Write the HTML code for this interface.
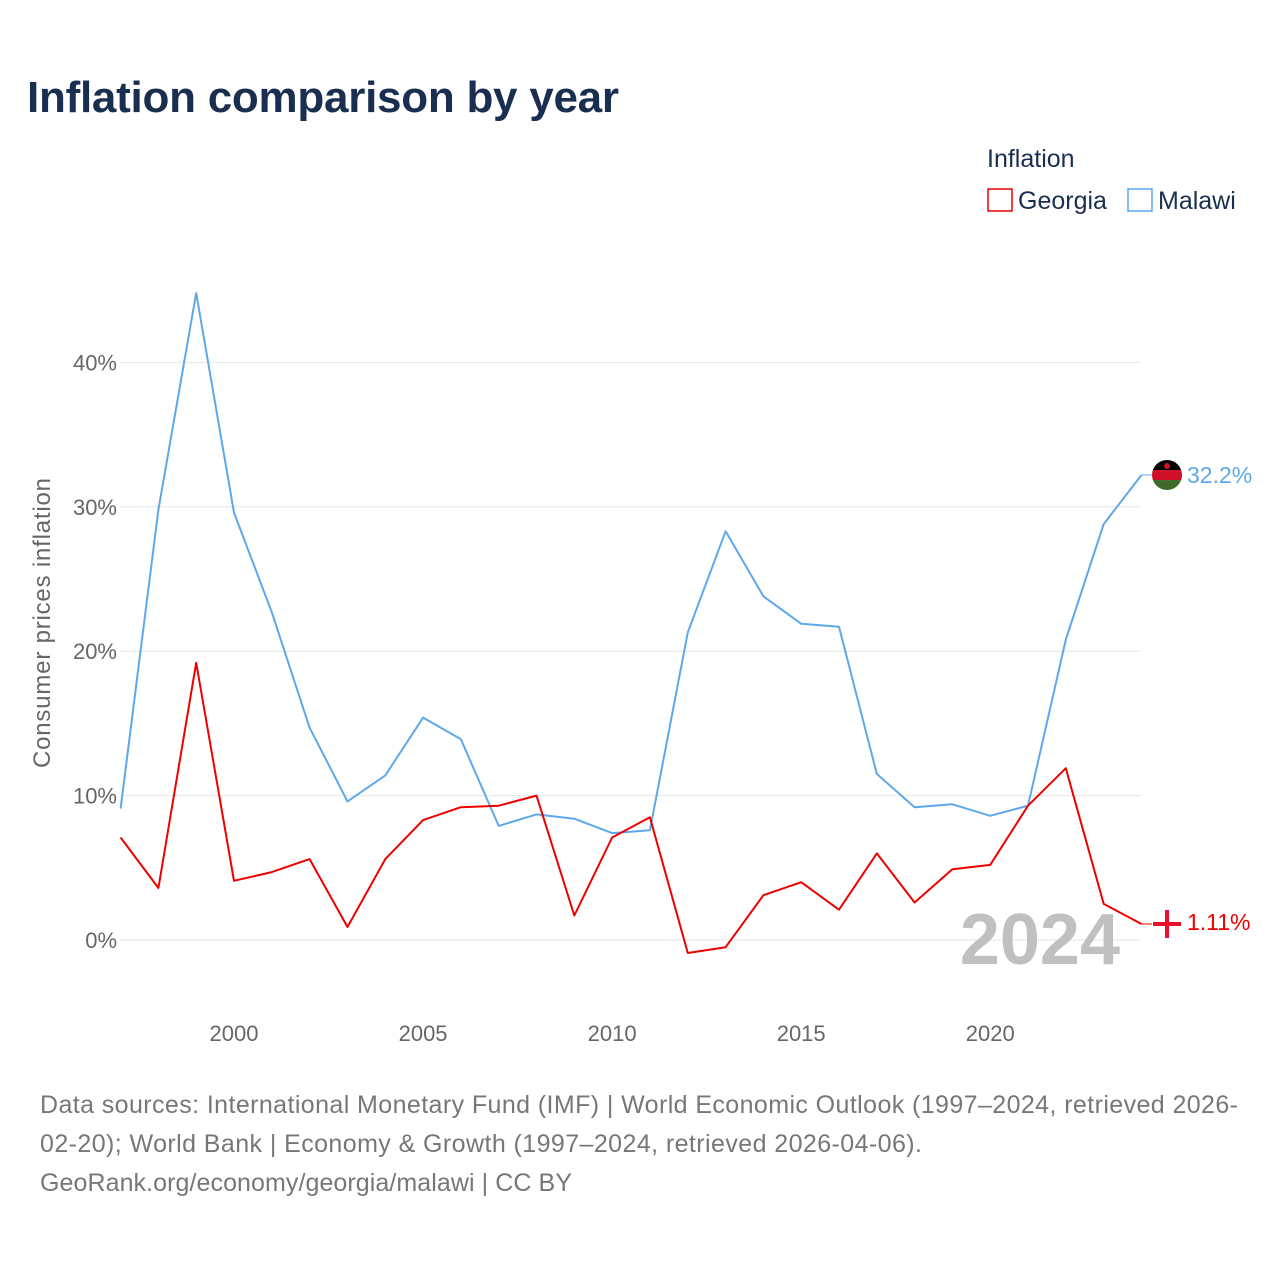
<!DOCTYPE html>
<html><head><meta charset="utf-8">
<style>
body{margin:0;background:#fff;font-family:"Liberation Sans",sans-serif;}
#wrap{position:relative;width:1280px;height:1280px;overflow:hidden;}
</style></head>
<body>
<div id="wrap">
<svg id="chart" width="1280" height="1280">
<text x="27" y="112" font-size="44" font-weight="bold" fill="#1a2e4f" textLength="592">Inflation comparison by year</text>
<g>
<text x="987" y="167" font-size="25" fill="#1a2e4f">Inflation</text>
<g><rect x="988" y="189" width="24" height="22" fill="none" stroke="#ee0000" stroke-width="1.5"/><text x="1018" y="209" font-size="25" fill="#1a2e4f">Georgia</text></g>
<g><rect x="1128" y="189" width="24" height="22" fill="none" stroke="#5ea8ea" stroke-width="1.5"/><text x="1158" y="209" font-size="25" fill="#1a2e4f">Malawi</text></g>
</g>
<text transform="translate(50,623) rotate(-90)" text-anchor="middle" font-size="24" fill="#666" textLength="290">Consumer prices inflation</text>
<g id="grid"></g><g id="yticks"></g><g id="xticks"></g>
<text x="1120" y="964" text-anchor="end" font-size="72" font-weight="bold" fill="#c0c0c0">2024</text>
<g id="series"></g>
<g font-size="25" fill="#777">
<text x="40" y="1113" textLength="1198">Data sources: International Monetary Fund (IMF) | World Economic Outlook (1997–2024, retrieved 2026-</text>
<text x="40" y="1152" textLength="882">02-20); World Bank | Economy &amp; Growth (1997–2024, retrieved 2026-04-06).</text>
<text x="40" y="1191" textLength="532">GeoRank.org/economy/georgia/malawi | CC BY</text>
</g>
</svg>
</div>
<script>
const years=[1997,1998,1999,2000,2001,2002,2003,2004,2005,2006,2007,2008,2009,2010,2011,2012,2013,2014,2015,2016,2017,2018,2019,2020,2021,2022,2023,2024];
const malawi=[9.1,29.8,44.8,29.6,22.7,14.7,9.6,11.4,15.4,13.9,7.9,8.7,8.4,7.4,7.6,21.3,28.3,23.8,21.9,21.7,11.5,9.2,9.4,8.6,9.3,20.8,28.8,32.2];
const georgia=[7.1,3.6,19.2,4.1,4.7,5.6,0.9,5.6,8.3,9.2,9.3,10.0,1.7,7.1,8.5,-0.9,-0.5,3.1,4.0,2.1,6.0,2.6,4.9,5.2,9.3,11.9,2.5,1.11];
const yTicks=[0,10,20,30,40];
const xTicks=[2000,2005,2010,2015,2020];
const NS="http://www.w3.org/2000/svg";
const x=v=>120.6+(v-1997)*37.81;
const y=v=>940-v*14.44;
function mk(t,a,p){const e=document.createElementNS(NS,t);for(const k in a)e.setAttribute(k,a[k]);p.appendChild(e);return e;}
const grid=document.getElementById('grid'),yt=document.getElementById('yticks'),xt=document.getElementById('xticks'),ser=document.getElementById('series');
yTicks.forEach(v=>{
 const l=mk('line',{x1:120,x2:1141,y1:y(v),y2:y(v),stroke:'#e6e6e6','stroke-width':1},grid);
 
 
 const t=mk('text',{x:117,y:y(v)+8,'text-anchor':'end','font-size':22,fill:'#666'},yt);
 t.textContent=v+'%';
 
 
});
xTicks.forEach(v=>{
 const t=mk('text',{x:x(v),y:1041,'text-anchor':'middle','font-size':22,fill:'#666'},xt);
 t.textContent=v;
 
 
});
function line(data,color,name){
 const d=data.map((v,i)=>(i?'L':'M')+x(years[i]).toFixed(1)+','+y(v).toFixed(1)).join(' ');
 const p=mk('path',{d:d,fill:'none',stroke:color,'stroke-width':2,'stroke-linejoin':'round'},ser);
 
 
 const last=data[data.length-1],ly=y(last);
 mk('line',{x1:x(2024),y1:ly,x2:1152,y2:ly,stroke:color,'stroke-width':1},ser);
 const g=mk('g',{},ser);
 
 
 return {ly,g,last};
}
const m=line(malawi,'#5ea8ea','malawi');
const cy=m.ly;
mk('clipPath',{id:'mc'},m.g);
mk('circle',{cx:1167,cy:cy,r:15},document.getElementById('mc'));
mk('rect',{x:1152,y:cy-15,width:30,height:10,fill:'#000','clip-path':'url(#mc)'},m.g);
mk('rect',{x:1152,y:cy-5,width:30,height:10,fill:'#ce1126','clip-path':'url(#mc)'},m.g);
mk('rect',{x:1152,y:cy+5,width:30,height:10,fill:'#3f6b2a','clip-path':'url(#mc)'},m.g);
mk('circle',{cx:1167,cy:cy-9,r:3,fill:'#ce1126'},m.g);
let t=mk('text',{x:1187,y:cy+8,'font-size':23,fill:'#5ea8ea'},ser);t.textContent=m.last.toFixed(1)+'%';


const gg=line(georgia,'#ee0000','georgia');
const gy=gg.ly;
mk('circle',{cx:1167,cy:gy,r:14,fill:'#fff'},gg.g);
mk('rect',{x:1153,y:gy-2,width:28,height:4,fill:'#e8112d'},gg.g);
mk('rect',{x:1165,y:gy-14,width:4,height:28,fill:'#e8112d'},gg.g);
t=mk('text',{x:1187,y:gy+6,'font-size':23,fill:'#ee0000'},ser);t.textContent=gg.last.toFixed(2)+'%';


</script>
</body></html>
